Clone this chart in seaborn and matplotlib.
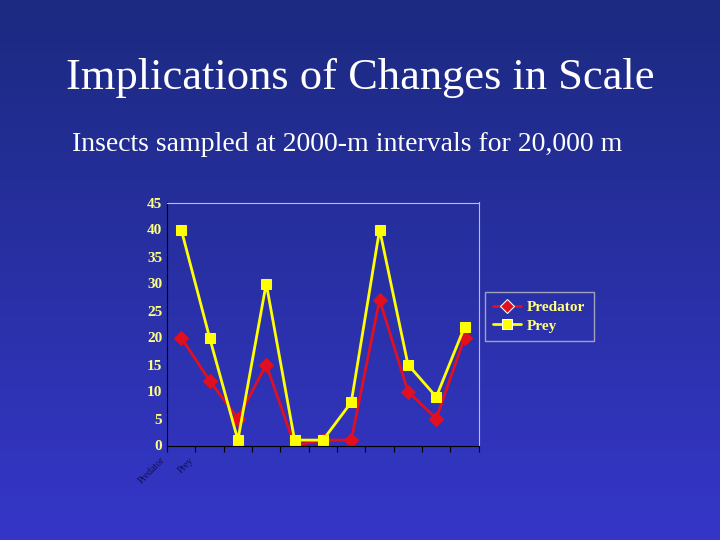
import matplotlib
matplotlib.use("Agg")
import matplotlib.pyplot as plt
import numpy as np
import pandas as pd
import seaborn as sns

samples = list(range(1, 12))
predator = [20, 12, 5, 15, 0, 1, 1, 27, 10, 5, 20]
prey = [40, 20, 1, 30, 1, 1, 8, 40, 15, 9, 22]
xtick_labels = ["Predator", "Prey"]

df = pd.DataFrame({"x": samples * 2, "y": predator + prey,
                   "series": ["Predator"] * 11 + ["Prey"] * 11})

sns.set_style("white")
plt.rcParams['font.family'] = ['Liberation Serif', 'DejaVu Serif']
fig = plt.figure(figsize=(7.2, 5.4), dpi=100)
bg = fig.add_axes([0, 0, 1, 1], zorder=-10)
grad = np.linspace(0, 1, 256).reshape(-1, 1)
from matplotlib.colors import LinearSegmentedColormap
cmap = LinearSegmentedColormap.from_list("g", ["#1c2a80", "#3536c8"])
bg.imshow(grad, aspect="auto", cmap=cmap, extent=[0, 1, 0, 1], origin="upper")
bg.axis("off")

fig.text(0.5, 0.835, "Implications of Changes in Scale", ha="center", color="white", fontsize=32)
fig.text(0.1, 0.72, "Insects sampled at 2000-m intervals for 20,000 m", ha="left", color="white", fontsize=20)

ax = fig.add_axes([0.232, 0.175, 0.433, 0.45])
ax.patch.set_alpha(0)
sns.lineplot(data=df, x="x", y="y", hue="series", style="series",
             palette={"Predator": "#e01020", "Prey": "#ffff00"},
             markers={"Predator": "D", "Prey": "s"}, dashes=False,
             markersize=7, linewidth=2, ax=ax)
for ln, c in zip(ax.lines, ["#e01020", "#ffff00"]):
    ln.set_markerfacecolor(c); ln.set_markeredgecolor(c)
ax.set_xlim(0.5, 11.5)
ax.set_ylim(0, 45)
ax.set_yticks(range(0, 46, 5))
ax.set_xticks(np.arange(0.5, 12, 1))
ax.set_xticklabels(xtick_labels + [""] * 10, rotation=45, ha="right", color="#101050", fontsize=7)
ax.tick_params(axis="y", colors="#ffff80", labelsize=11, length=0)
ax.tick_params(axis="x", length=4, color="black", bottom=True)
for lab in ax.get_yticklabels():
    lab.set_fontweight("bold")
ax.set_xlabel(""); ax.set_ylabel("")
for s in ["top", "right"]:
    ax.spines[s].set_color("#c0c0c0")
for s in ["left", "bottom"]:
    ax.spines[s].set_color("black")
leg = ax.legend(loc="center left", bbox_to_anchor=(1.01, 0.53), frameon=True,
                prop={"weight": "bold", "size": 11}, labelcolor="#ffff80",
                handlelength=1.8, handletextpad=0.4, borderpad=0.25, labelspacing=0.3)
leg.get_frame().set_facecolor("none")
leg.get_frame().set_edgecolor("#c0c0c0")
leg.get_frame().set_boxstyle("square")
fig.savefig("out.png", dpi=100)
